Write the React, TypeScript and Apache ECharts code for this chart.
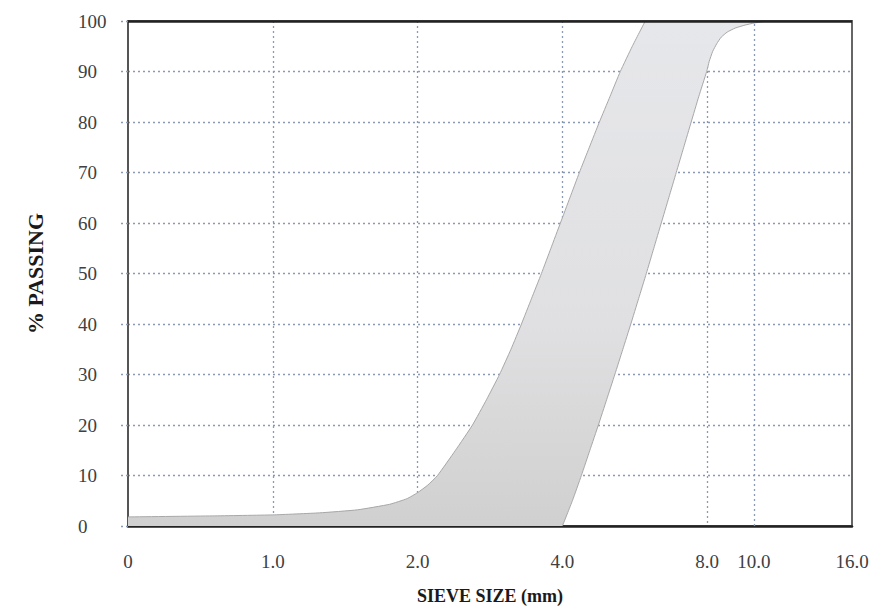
import React, { useEffect, useRef } from "react";
import * as echarts from "echarts";

// Upper limit of the grading envelope (sieve size mm, % passing)
const sizeUpper = [0.5, 0.75, 1, 1.25, 1.5, 1.75, 1.9, 2, 2.1, 2.2, 2.398, 2.601, 2.781, 2.96, 3.127, 3.288, 3.449, 3.618, 3.786, 3.962, 4.146, 4.339, 4.551, 4.775, 5.021, 5.278, 5.59, 5.948];
const passUpper = [1.8, 2.0, 2.2, 2.6, 3.2, 4.3, 5.4, 6.6, 8.1, 10, 15, 20, 25, 30, 35, 40, 45, 50, 55, 60, 65, 70, 75, 80, 85, 90, 95, 100];
// Lower limit of the grading envelope
const sizeLower = [4, 4.196, 4.38, 4.562, 4.752, 4.943, 5.141, 5.342, 5.55, 5.76, 5.977, 6.195, 6.421, 6.656, 6.898, 7.15, 7.41, 7.681, 7.98, 8.077, 8.214, 8.373, 8.555, 8.803, 9.146, 9.594, 10.015, 10.405, 10.709];
const passLower = [0, 5, 10, 15, 20, 25, 30, 35, 40, 45, 50, 55, 60, 65, 70, 75, 80, 85, 90, 92, 94, 95.5, 96.8, 97.8, 98.6, 99.2, 99.6, 99.85, 100];

const X_MIN = 0.5;
const X_MAX = 16;
const extraTick = 10;
const extraTickLabel = "10.0";
const yName = "% PASSING";
const xName = "SIEVE SIZE (mm)";

const FONT = "'Liberation Serif', 'DejaVu Serif', serif";
const GRID_COLOR = "#8a9ab4";
const LABEL_COLOR = "#404040";

export default function App() {
  const ref = useRef<HTMLDivElement>(null);

  useEffect(() => {
    if (!ref.current) return;
    const chart = echarts.init(ref.current, null, { renderer: "svg" });

    const upper = sizeUpper.map((s, i) => [s, passUpper[i]]);
    const lower = sizeLower.map((s, i) => [s, passLower[i]]);

    const option: any = {
      animation: false,
      backgroundColor: "#ffffff",
      grid: {
        left: 128,
        right: 37,
        top: 21,
        bottom: 83,
        show: true,
        borderColor: "#666",
        borderWidth: 2,
        backgroundColor: "transparent",
      },
      xAxis: {
        type: "log",
        logBase: 2,
        min: X_MIN,
        max: X_MAX,
        name: xName,
        nameLocation: "middle",
        nameGap: 61,
        nameTextStyle: { fontFamily: FONT, fontSize: 18, fontWeight: "bold", color: "#1a1a1a" },
        axisLine: { show: true, lineStyle: { color: "#222", width: 2.5 } },
        axisTick: { show: false },
        axisLabel: {
          fontFamily: FONT,
          fontSize: 19,
          color: LABEL_COLOR,
          margin: 26,
          formatter: (v: number) => (v < 0.9 ? "0" : v.toFixed(1)),
        },
        splitLine: {
          show: true,
          showMinLine: false,
          showMaxLine: false,
          lineStyle: { type: [2, 3], color: GRID_COLOR, width: 1.3 },
        },
      },
      yAxis: {
        type: "value",
        min: 0,
        max: 100,
        interval: 10,
        name: yName,
        nameLocation: "middle",
        nameGap: 82,
        nameTextStyle: { fontFamily: FONT, fontSize: 22, fontWeight: "bold", color: "#1a1a1a" },
        axisLine: { show: true, lineStyle: { color: "#555", width: 2 } },
        axisTick: { show: true, length: 10, lineStyle: { type: [2, 3], color: GRID_COLOR, width: 1.3 } },
        axisLabel: { fontFamily: FONT, fontSize: 19, color: LABEL_COLOR, margin: 50, align: "left" },
        splitLine: {
          show: true,
          showMinLine: false,
          showMaxLine: false,
          lineStyle: { type: [2, 3], color: GRID_COLOR, width: 1.3 },
        },
      },
      series: [
        {
          type: "custom",
          silent: true,
          data: [[X_MIN, 0]],
          clip: true,
          renderItem: (params: any, api: any) => {
            const up = upper.map((p) => api.coord(p));
            const lo = lower.map((p) => api.coord(p));
            const poly = [api.coord([X_MIN, 0]), ...up, ...lo.slice().reverse()];
            return {
              type: "group",
              children: [
                {
                  type: "polygon",
                  shape: { points: poly },
                  style: {
                    fill: new echarts.graphic.LinearGradient(0, 0, 0, 1, [
                      { offset: 0, color: "#e6e7ea" },
                      { offset: 0.6, color: "#e0e0e2" },
                      { offset: 1, color: "#d0d0d0" },
                    ]),
                    stroke: "none",
                  },
                },
                {
                  type: "polyline",
                  shape: { points: up, smooth: 0.15 },
                  style: { fill: "none", stroke: "#a8a8a8", lineWidth: 1 },
                },
                {
                  type: "polyline",
                  shape: { points: lo, smooth: 0.15 },
                  style: { fill: "none", stroke: "#a8a8a8", lineWidth: 1 },
                },
              ],
            };
          },
          z: 1,
        },
        {
          type: "line",
          data: [],
          silent: true,
          markLine: {
            silent: true,
            symbol: "none",
            animation: false,
            data: [
              {
                xAxis: extraTick,
                lineStyle: { type: [2, 3], color: GRID_COLOR, width: 1.3 },
                label: {
                  show: true,
                  position: "start",
                  formatter: extraTickLabel,
                  fontFamily: FONT,
                  fontSize: 19,
                  color: LABEL_COLOR,
                  distance: 26,
                },
              },
              {
                yAxis: 100,
                lineStyle: { type: "solid", color: "#222", width: 2.5 },
                label: { show: false },
              },
            ],
          },
          z: 3,
        },
      ],
    };

    chart.setOption(option);
    return () => chart.dispose();
  }, []);

  return (
    <div
      ref={ref}
      style={{ position: "fixed", left: 0, top: 0, width: 889, height: 610, background: "#fff" }}
    />
  );
}
